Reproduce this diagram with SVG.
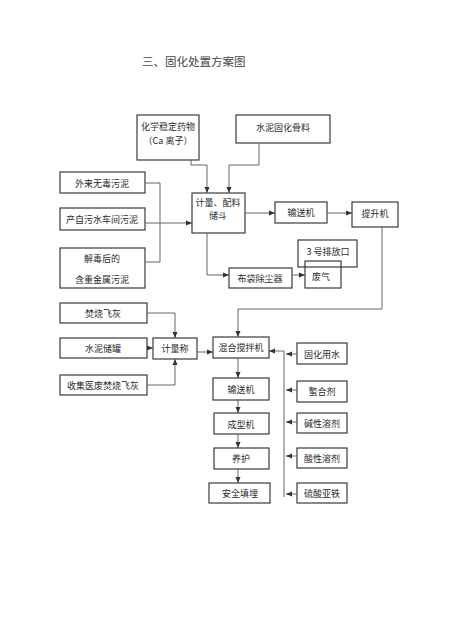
<svg xmlns="http://www.w3.org/2000/svg" width="454" height="643" viewBox="0 0 454 643">
<defs>
<marker id="arr" markerWidth="6" markerHeight="6" refX="6" refY="3" orient="auto" markerUnits="userSpaceOnUse">
<path d="M0,0.5 L6,3 L0,5.5 z" fill="#333"/>
</marker>
<style>
.box{fill:none;stroke:#3a3a3a;stroke-width:1.2}
.t{font-family:"Noto Sans CJK SC","Noto Sans",sans-serif;font-size:9px;fill:#2a2a2a;text-anchor:middle;dominant-baseline:central}
.ttl{font-family:"Noto Sans CJK SC",sans-serif;font-size:11.5px;fill:#444}
.c{fill:none;stroke:#555;stroke-width:0.9}
.a{marker-end:url(#arr)}
</style>
</defs>
<rect width="454" height="643" fill="#fff"/>
<text class="ttl" x="142" y="66">三、固化处置方案图</text>

<g id="n_drug"><rect class="box" x="137" y="115" width="62" height="45"/><text class="t" x="168" y="126">化学稳定药物</text><text class="t" x="168" y="140">（Ca 离子）</text></g>
<g id="n_cement_agg"><rect class="box" x="236" y="115" width="94" height="28"/><text class="t" x="283" y="127">水泥固化骨料</text></g>
<g id="n_sludge1"><rect class="box" x="60" y="172" width="85" height="21"/><text class="t" x="102" y="183">外来无毒污泥</text></g>
<g id="n_sludge2"><rect class="box" x="60" y="208" width="85" height="22"/><text class="t" x="102" y="219">产自污水车间污泥</text></g>
<g id="n_sludge3"><rect class="box" x="60" y="248" width="85" height="40"/><text class="t" x="102" y="258">解毒后的</text><text class="t" x="102" y="279">含重金属污泥</text></g>
<g id="n_hopper"><rect class="box" x="192" y="193" width="53" height="40"/><text class="t" x="218" y="202">计量、配料</text><text class="t" x="218" y="215">储斗</text></g>
<g id="n_conv1"><rect class="box" x="275" y="202" width="52" height="21"/><text class="t" x="301" y="212">输送机</text></g>
<g id="n_lift"><rect class="box" x="352" y="202" width="46" height="25"/><text class="t" x="375" y="213">提升机</text></g>
<g id="n_bag"><rect class="box" x="229" y="268" width="63" height="20"/><text class="t" x="260" y="278">布袋除尘器</text></g>
<g id="n_outlet"><rect class="box" x="298" y="240" width="59" height="27"/><text class="t" x="328" y="251">3 号排放口</text></g>
<g id="n_gas"><rect class="box" x="305" y="261" width="36" height="27"/><text class="t" x="321" y="276">废气</text></g>
<g id="n_ash"><rect class="box" x="60" y="303" width="87" height="20"/><text class="t" x="103" y="313">焚烧飞灰</text></g>
<g id="n_tank"><rect class="box" x="60" y="338" width="87" height="20"/><text class="t" x="103" y="348">水泥储罐</text></g>
<g id="n_medash"><rect class="box" x="60" y="375" width="87" height="20"/><text class="t" x="103" y="385">收集医废焚烧飞灰</text></g>
<g id="n_scale"><rect class="box" x="153" y="338" width="44" height="21"/><text class="t" x="175" y="348">计量称</text></g>
<g id="n_mixer"><rect class="box" x="213" y="337" width="56" height="21"/><text class="t" x="241" y="347">混合搅拌机</text></g>
<g id="n_conv2"><rect class="box" x="213" y="378" width="56" height="22"/><text class="t" x="241" y="389">输送机</text></g>
<g id="n_mold"><rect class="box" x="214" y="413" width="55" height="21"/><text class="t" x="241" y="424">成型机</text></g>
<g id="n_cure"><rect class="box" x="214" y="448" width="55" height="21"/><text class="t" x="241" y="458">养护</text></g>
<g id="n_landfill"><rect class="box" x="209" y="483" width="61" height="20"/><text class="t" x="240" y="493">安全填埋</text></g>
<g id="n_water"><rect class="box" x="297" y="343" width="50" height="21"/><text class="t" x="322" y="354">固化用水</text></g>
<g id="n_chel"><rect class="box" x="297" y="381" width="50" height="21"/><text class="t" x="322" y="391">螯合剂</text></g>
<g id="n_alk"><rect class="box" x="297" y="413" width="50" height="20"/><text class="t" x="322" y="423">碱性溶剂</text></g>
<g id="n_acid"><rect class="box" x="297" y="448" width="50" height="20"/><text class="t" x="322" y="458">酸性溶剂</text></g>
<g id="n_fes"><rect class="box" x="297" y="483" width="50" height="20"/><text class="t" x="322" y="493">硫酸亚铁</text></g>

<g id="connectors">
<path class="c a" d="M191,160 V165 H207 V193"/>
<path class="c a" d="M259,143 V165 H229 V193"/>
<path class="c" d="M145,183 H160 V262 H145"/>
<path class="c a" d="M145,223 H192"/>
<path class="c a" d="M245,213 H275"/>
<path class="c a" d="M327,213 H352"/>
<path class="c a" d="M207,233 V275 H229"/>
<path class="c a" d="M292,275 H305"/>
<path class="c a" d="M382,227 V309 H238 V337"/>
<path class="c a" d="M147,313 H175 V338"/>
<path class="c a" d="M147,348 H153"/>
<path class="c a" d="M147,385 H175 V359"/>
<path class="c a" d="M197,352 H213"/>
<path class="c a" d="M238,358 V378"/>
<path class="c a" d="M238,400 V413"/>
<path class="c a" d="M238,434 V448"/>
<path class="c a" d="M238,469 V483"/>
<path class="c a" d="M284,497 V351 H269"/>
<path class="c a" d="M297,354 H286"/>
<path class="c a" d="M297,390 H286"/>
<path class="c a" d="M297,422 H286"/>
<path class="c a" d="M297,456 H286"/>
<path class="c a" d="M297,494 H286"/>
</g>
</svg>
